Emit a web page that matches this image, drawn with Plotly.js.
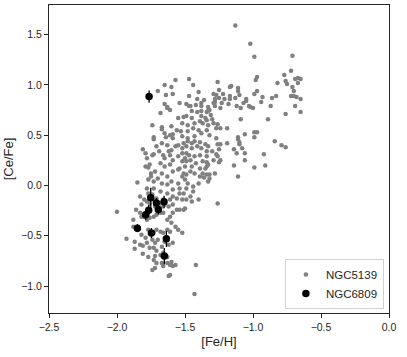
<!DOCTYPE html>
<html>
<head>
<meta charset="utf-8">
<script src="https://cdn.plot.ly/plotly-3.0.1.min.js"></script>
<style>
html,body{margin:0;padding:0;background:#fff;}
#chart{width:407px;height:357px;}
</style>
</head>
<body>
<div id="chart"></div>
<script>
// NGC5139 stars: [Fe/H], [Ce/Fe] pairs
const ngc5139 = [
[-1.13,1.59],[-1.02,1.41],[-0.99,1.28],[-0.71,1.29],[-0.97,1.08],[-0.98,1.05],[-0.82,1.02],[-0.77,1.10],[-0.76,1.04],[-0.72,1.14],
[-0.75,1.01],[-0.69,1.06],[-0.67,1.07],[-0.65,1.06],[-0.67,1.02],[-0.71,0.98],[-0.70,0.94],[-0.72,0.89],[-0.70,0.89],[-0.69,0.79],
[-0.65,0.86],[-0.65,0.73],[-0.76,0.71],[-0.83,0.89],[-0.86,0.87],[-0.87,0.79],[-0.93,0.88],[-0.94,0.83],[-0.89,0.66],[-0.84,0.44],
[-0.79,0.40],[-0.76,0.38],[-0.92,0.31],[-0.91,0.20],[-0.99,0.18],[-0.99,0.53],[-0.97,0.53],[-0.97,0.94],[-1.03,0.79],[-1.02,0.78],
[-1.05,0.84],[-1.05,0.86],[-1.06,0.51],[-1.12,0.32],[-1.06,0.25],[-1.11,0.09],[-1.11,0.46],[-1.10,0.43],[-1.11,0.48],[-1.17,0.98],
[-1.16,0.99],[-1.11,0.97],[-1.17,0.89],[-1.17,0.86],[-1.13,0.87],[-1.12,0.79],[-1.09,0.77],[-1.09,0.66],[-1.14,0.36],[-1.08,0.37],
[-1.14,0.20],[-1.19,0.57],[-1.18,0.81],[-1.21,0.86],[-1.22,0.91],[-1.19,0.42],[-0.99,0.48],[-1.00,0.77],[-0.99,0.91],[-0.68,0.88],
[-1.28,0.86],[-1.25,0.87],[-1.27,0.90],[-1.29,0.91],[-1.25,0.95],[-1.28,0.79],[-1.33,0.74],[-1.30,0.66],[-1.26,0.61],[-1.27,0.57],
[-1.24,0.57],[-1.24,0.41],[-1.26,0.41],[-1.25,0.36],[-1.27,0.31],[-1.24,0.25],[-1.25,0.23],[-1.28,0.12],[-1.32,0.11],[-1.34,0.19],
[-1.34,0.23],[-1.34,0.34],[-1.26,-0.18],[-1.40,-0.14],[-1.42,-0.79],[-1.43,-1.08],[-1.36,0.85],[-1.38,0.82],[-1.41,0.86],[-1.40,0.93],
[-1.42,0.80],[-1.44,1.00],[-1.47,1.06],[-1.47,0.89],[-1.49,0.81],[-1.47,0.79],[-1.46,0.79],[-1.54,0.82],[-1.57,1.05],[-1.60,0.98],
[-1.65,1.00],[-1.70,0.94],[-1.64,0.90],[-1.65,0.81],[-1.63,0.78],[-1.63,0.77],[-1.68,0.72],[-1.74,0.60],[-1.67,0.58],[-1.73,0.48],
[-1.73,0.46],[-1.65,0.52],[-1.64,0.48],[-1.81,0.36],[-1.79,0.32],[-1.74,0.30],[-1.78,0.27],[-1.79,0.19],[-1.77,0.18],[-1.75,0.12],
[-1.75,0.09],[-1.85,0.03],[-1.83,-0.11],[-1.80,-0.14],[-1.86,-0.24],[-2.00,-0.26],[-1.88,-0.34],[-1.80,-0.31],[-1.93,-0.53],[-1.88,-0.41],
[-1.85,-0.44],[-1.87,-0.56],[-1.87,-0.63],[-1.83,-0.59],[-1.81,-0.60],[-1.81,-0.68],[-1.77,-0.71],[-1.73,-0.74],[-1.71,-0.77],[-1.72,-0.70],
[-1.76,-0.62],[-1.74,-0.84],[-1.72,-0.82],[-1.67,-0.77],[-1.66,-0.80],[-1.63,-0.77],[-1.61,-0.79],[-1.59,-0.80],[-1.57,-0.79],[-1.61,-0.89],
[-1.62,-0.90],[-1.60,-0.76],
[-1.59,0.91],[-1.61,0.75],[-1.55,0.67],[-1.51,0.68],[-1.60,0.59],[-1.52,0.62],[-1.67,0.56],[-1.56,0.55],[-1.53,0.54],[-1.61,0.50],
[-1.59,0.51],[-1.59,0.47],[-1.52,0.49],
[-1.26,1.03],[-1.11,0.94],[-1.10,0.90],[-1.38,0.79],[-1.29,0.82],[-1.28,0.83],[-1.23,0.82],[-1.24,0.77],[-1.07,0.82],[-1.45,0.74],
[-1.41,0.73],[-1.38,0.74],[-1.33,0.78],[-1.32,0.75],[-1.34,0.73],[-1.31,0.70],[-1.49,0.69],[-1.45,0.67],[-1.38,0.69],[-1.35,0.67],
[-1.34,0.65],[-1.39,0.64],[-1.43,0.62],[-1.48,0.60],[-1.37,0.62],[-1.33,0.60],[-1.29,0.62],[-1.44,0.57],[-1.40,0.55],[-1.48,0.54],
[-1.34,0.55],[-1.38,0.52],[-1.32,0.50],[-1.43,0.49],[-1.48,0.47],[-1.27,0.47],
[-1.73,0.31],[-1.76,0.21],[-1.68,0.22],[-1.65,0.27],[-1.61,0.30],[-1.60,0.35],[-1.57,0.39],[-1.55,0.40],[-1.52,0.37],[-1.63,0.40],
[-1.62,0.34],[-1.59,0.25],[-1.55,0.29],[-1.52,0.24],[-1.61,0.21],[-1.65,0.19],[-1.72,0.14],[-1.67,0.12],[-1.70,0.07],[-1.63,0.09],
[-1.59,0.14],[-1.55,0.16],[-1.51,0.12],[-1.60,0.04],[-1.55,0.02],[-1.63,0.01],[-1.67,0.02],[-1.78,-0.03],[-1.73,-0.03],[-1.68,-0.06],
[-1.63,-0.08],[-1.59,-0.04],[-1.54,-0.03],[-1.51,-0.08],[-1.74,-0.09],[-1.71,-0.13],[-1.66,-0.14],[-1.61,-0.14],[-1.82,-0.19],[-1.72,-0.21],
[-1.66,-0.21],
[-1.10,0.41],[-1.06,0.32],[-1.26,0.29],[-1.29,0.25],[-1.34,0.11],[-1.36,0.08],[-1.39,0.09],[-1.32,0.07],[-1.33,0.04],[-1.40,0.02],
[-1.37,0.12],[-1.48,0.02],[-1.44,-0.01],[-1.49,-0.03],[-1.46,-0.11],
[-1.48,0.44],[-1.45,0.42],[-1.43,0.44],[-1.39,0.43],[-1.35,0.41],[-1.49,0.39],[-1.45,0.37],[-1.41,0.39],[-1.38,0.37],[-1.49,0.32],
[-1.47,0.30],[-1.43,0.29],[-1.39,0.30],[-1.46,0.25],[-1.49,0.24],[-1.42,0.22],[-1.45,0.19],[-1.39,0.17],[-1.46,0.14],[-1.43,0.12],
[-1.49,0.11],
[-1.83,-0.27],[-1.82,-0.31],[-1.78,-0.34],[-1.76,-0.32],[-1.73,-0.31],[-1.71,-0.29],[-1.68,-0.27],[-1.66,-0.27],[-1.77,-0.44],[-1.73,-0.47],
[-1.71,-0.44],[-1.68,-0.46],[-1.66,-0.47],[-1.63,-0.44],[-1.61,-0.46],[-1.74,-0.54],[-1.72,-0.57],[-1.70,-0.54],[-1.67,-0.61],[-1.65,-0.56],
[-1.62,-0.59],[-1.59,-0.57],[-1.55,-0.44],[-1.52,-0.47],[-1.54,-0.24],[-1.51,-0.24],[-1.50,-0.23],[-1.56,-0.24],[-1.59,-0.27],[-1.61,-0.31],
[-1.63,-0.34],[-1.60,-0.37],[-1.57,-0.41],[-1.78,-0.16],[-1.76,-0.18],[-1.72,-0.16],[-1.68,-0.18],[-1.65,-0.19],[-1.62,-0.21],[-1.59,-0.19],
[-1.52,-0.14],[-1.56,-0.13],[-1.59,-0.11],[-1.49,-0.14],[-1.82,-0.49],[-1.79,-0.52],[-1.78,-0.57],[-1.71,-0.65],[-1.68,-0.69],[-1.66,-0.67],
[-1.63,-0.71],[-1.73,-0.62],[-1.77,-0.08],[-1.77,0.06],[-1.73,0.04],[-1.69,0.34],[-1.67,0.42],[-1.71,0.39],[-1.66,0.30],
[-1.33,0.39],[-1.30,0.34],[-1.34,0.29],[-1.37,0.24],[-1.33,0.21],[-1.35,0.17],[-1.52,0.09],[-1.50,0.06],[-1.54,0.17],[-1.50,0.19],
[-1.52,0.32],[-1.50,0.27],[-1.51,0.42],[-1.54,-0.08],[-1.45,-0.16],[-1.44,-0.06]
];

// NGC6809 stars
const ngc6809_feh  = [-1.764, -1.752, -1.710, -1.654, -1.767, -1.696, -1.789, -1.850, -1.747, -1.637, -1.652];
const ngc6809_cefe = [ 0.884, -0.123, -0.175, -0.162, -0.245, -0.238, -0.291, -0.424, -0.473, -0.530, -0.702];
const ngc6809_err  = [ 0.06,   0.10,   0.05,   0.06,   0.05,   0.05,   0.05,   0.04,   0.05,   0.08,   0.08];

const xTicks = [-2.5, -2.0, -1.5, -1.0, -0.5, 0.0];
const yTicks = [-1.0, -0.5, 0.0, 0.5, 1.0, 1.5];

const font = 'Liberation Sans, Arial, sans-serif';
const axisColor = '#262626';

const traces = [
  {
    type: 'scatter', mode: 'markers', name: 'NGC5139',
    x: ngc5139.map(p => p[0]), y: ngc5139.map(p => p[1]),
    marker: {color: '#808080', size: 4.5, line: {width: 0}},
    hoverinfo: 'skip'
  },
  {
    type: 'scatter', mode: 'markers', name: 'NGC6809',
    x: ngc6809_feh, y: ngc6809_cefe,
    error_y: {type: 'data', array: ngc6809_err, visible: true, color: '#000', thickness: 1.3, width: 0},
    marker: {color: '#000', size: 7.5, line: {width: 0}},
    hoverinfo: 'skip'
  }
];

const layout = {
  width: 407, height: 357,
  margin: {l: 49, r: 18, t: 5, b: 44},
  paper_bgcolor: '#fff', plot_bgcolor: '#fff',
  font: {family: font, size: 10.5, color: axisColor},
  showlegend: true,
  legend: {
    x: 0.985, y: 0.013, xanchor: 'right', yanchor: 'bottom',
    bordercolor: '#d0d0d0', borderwidth: 1, bgcolor: 'rgba(255,255,255,0.85)',
    font: {family: font, size: 11.5, color: axisColor},
    itemsizing: 'trace', tracegroupgap: 0, itemwidth: 30
  },
  xaxis: {
    range: [-2.5, 0.0], tickvals: xTicks, ticktext: xTicks.map(v => (v < 0 ? '\u2212' : '') + Math.abs(v).toFixed(1)),
    ticks: 'outside', ticklen: 4, tickwidth: 1, tickcolor: axisColor,
    showline: true, linecolor: axisColor, linewidth: 1, mirror: true,
    showgrid: false, zeroline: false,
    tickfont: {family: font, size: 10.5, color: axisColor},
    title: {text: '[Fe/H]', font: {family: font, size: 13, color: axisColor}, standoff: 5}
  },
  yaxis: {
    range: [-1.268, 1.795], tickvals: yTicks, ticktext: yTicks.map(v => (v < 0 ? '\u2212' : '') + Math.abs(v).toFixed(1)),
    ticks: 'outside', ticklen: 4, tickwidth: 1, tickcolor: axisColor,
    showline: true, linecolor: axisColor, linewidth: 1, mirror: true,
    showgrid: false, zeroline: false,
    tickfont: {family: font, size: 10.5, color: axisColor},
    title: {text: '[Ce/Fe]', font: {family: font, size: 13, color: axisColor}, standoff: 4}
  }
};

Plotly.newPlot('chart', traces, layout, {displayModeBar: false, staticPlot: true});
</script>
</body>
</html>
